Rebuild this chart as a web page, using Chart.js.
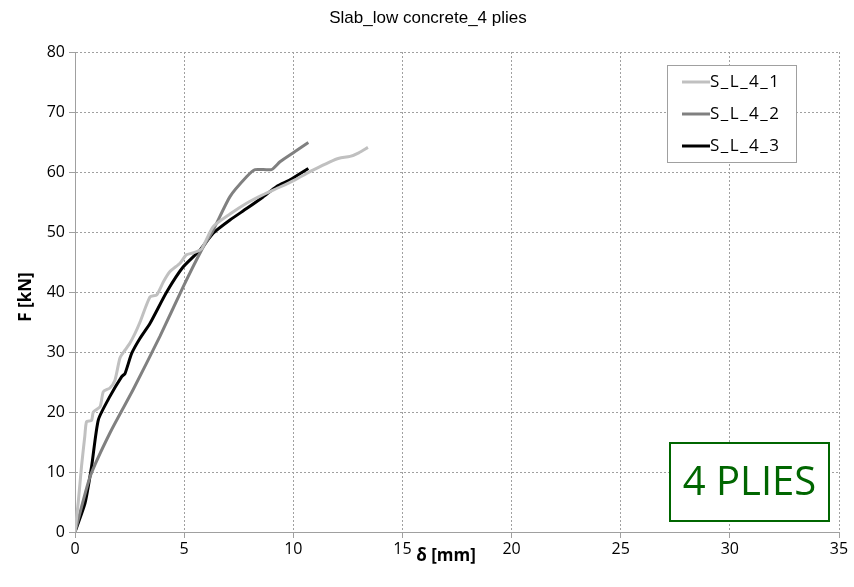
<!DOCTYPE html>
<html>
<head>
<meta charset="utf-8">
<script src="https://cdn.jsdelivr.net/npm/chart.js@4"></script>
<style>
  html, body { margin: 0; padding: 0; background: #fff; }
  #wrap { width: 854px; height: 587px; position: relative; }
</style>
</head>
<body>
<div id="wrap"><canvas id="slabChart" width="854" height="587"></canvas></div>
<script>
// valori (delta in mm, F in kN)
const xTicks = [0, 5, 10, 15, 20, 25, 30, 35];
const yTicks = [0, 10, 20, 30, 40, 50, 60, 70, 80];
const seriesNames = ['S_L_4_1', 'S_L_4_2', 'S_L_4_3'];

const d1 = [0, 0.15, 0.3, 0.45, 0.53, 0.76, 0.84, 1.15, 1.3, 1.6, 1.83, 2.06, 2.29, 2.52, 2.75, 2.98, 3.44, 3.74, 4.05, 4.35, 4.81, 5.1, 5.4, 5.8, 6.33, 7.1, 7.86, 8.6, 9.39, 10.08, 10.9, 11.68, 12.1, 12.6, 13.0, 13.42];
const f1 = [0, 5, 11, 16, 18.4, 18.6, 20, 20.9, 23.4, 24, 25.3, 29, 30.3, 31.5, 33.1, 35, 39.2, 39.5, 41.7, 43.4, 44.8, 46.2, 46.5, 47.2, 50.9, 53, 54.8, 56.2, 57.5, 58.7, 60.3, 61.7, 62.3, 62.6, 63.2, 64.1];

const d2 = [0, 0.69, 1.6, 2.66, 3.89, 4.96, 5.8, 6.33, 7.1, 7.86, 8.25, 9.0, 9.39, 10.08, 10.69];
const f2 = [0, 9.2, 16.5, 23.7, 32.6, 40.9, 47, 50.3, 55.9, 59.2, 60.4, 60.4, 61.7, 63.4, 64.9];

const d3 = [0, 0.46, 0.76, 1.07, 1.6, 2.14, 2.29, 2.6, 2.98, 3.44, 4.2, 4.96, 5.73, 6.33, 7.1, 7.86, 8.6, 9.24, 9.85, 10.69];
const f3 = [0, 4.8, 10.9, 18.7, 22.6, 25.9, 26.4, 29.8, 32.3, 34.8, 40, 44.2, 47, 49.8, 52, 53.9, 55.8, 57.6, 58.7, 60.6];

const colors = ['#c0c0c0', '#808080', '#000000'];

function pts(xs, ys) {
    return xs.map((x, i) => ({ x: x, y: ys[i] }));
}

// titolo, etichette assi, legenda e riquadro "4 PLIES"
const extras = {
    id: 'extras',
    afterDraw(chart) {
        const c = chart.ctx;
        c.save();
        c.fillStyle = '#000';
        c.textAlign = 'center';
        c.textBaseline = 'middle';
        c.font = '17px "Liberation Sans", Arial, sans-serif';
        c.fillText('Slab_low concrete_4 plies', 428, 18);

        c.font = 'bold 17px "Open Sans", sans-serif';
        c.fillText('δ [mm]', 446, 556);
        c.translate(26, 297);
        c.rotate(-Math.PI / 2);
        c.fillText('F [kN]', 0, 0);
        c.restore();

        // legenda
        c.save();
        c.fillStyle = '#fff';
        c.fillRect(667, 65, 129, 97);
        c.strokeStyle = '#a0a0a0';
        c.lineWidth = 1;
        c.strokeRect(667.5, 65.5, 129, 97);
        c.font = '17px "Open Sans", sans-serif';
        c.letterSpacing = '1.5px';
        c.textBaseline = 'middle';
        c.textAlign = 'left';
        chart.data.datasets.forEach((ds, i) => {
            const y = 82 + i * 32;
            c.strokeStyle = ds.borderColor;
            c.lineWidth = 3;
            c.beginPath();
            c.moveTo(682, y);
            c.lineTo(710, y);
            c.stroke();
            c.fillStyle = '#000';
            c.fillText(ds.label, 710, y);
        });
        c.letterSpacing = '0px';
        c.restore();

        // riquadro 4 PLIES
        c.save();
        c.fillStyle = '#fff';
        c.fillRect(670, 443, 159, 78);
        c.strokeStyle = '#006600';
        c.lineWidth = 2;
        c.strokeRect(670, 443, 159, 78);
        c.fillStyle = '#006600';
        c.font = '40px "Open Sans", sans-serif';
        c.textAlign = 'center';
        c.textBaseline = 'middle';
        c.fillText('4 PLIES', 749.5, 484);
        c.restore();
    }
};

new Chart(document.getElementById('slabChart'), {
    type: 'scatter',
    data: {
        datasets: [
            { label: seriesNames[0], data: pts(d1, f1) },
            { label: seriesNames[1], data: pts(d2, f2) },
            { label: seriesNames[2], data: pts(d3, f3) }
        ].map((ds, i) => Object.assign(ds, {
            showLine: true,
            borderColor: colors[i],
            backgroundColor: colors[i],
            borderWidth: 3,
            pointRadius: 0,
            tension: 0.2
        }))
    },
    options: {
        responsive: false,
        animation: false,
        devicePixelRatio: 1,
        layout: { padding: { top: 52, right: 15, left: 0, bottom: 0 } },
        plugins: {
            legend: { display: false },
            tooltip: { enabled: false }
        },
        scales: {
            x: {
                type: 'linear',
                min: 0, max: 35,
                afterBuildTicks: s => { s.ticks = xTicks.map(v => ({ value: v })); },
                afterFit: s => { s.height = 55; },
                border: { color: '#a0a0a0', width: 1, dash: [2, 2] },
                grid: { color: '#a0a0a0', tickColor: '#a0a0a0', tickLength: 6 },
                ticks: { color: '#000', font: { family: '"Open Sans", sans-serif', size: 16 }, padding: 2, maxRotation: 0 }
            },
            y: {
                min: 0, max: 80,
                afterBuildTicks: s => { s.ticks = yTicks.map(v => ({ value: v })); },
                afterFit: s => { s.width = 75; },
                border: { color: '#a0a0a0', width: 1, dash: [2, 2] },
                grid: { color: '#a0a0a0', tickColor: '#a0a0a0', tickLength: 6 },
                ticks: { color: '#000', font: { family: '"Open Sans", sans-serif', size: 16 }, padding: 4 }
            }
        }
    },
    plugins: [extras]
});
</script>
</body>
</html>
